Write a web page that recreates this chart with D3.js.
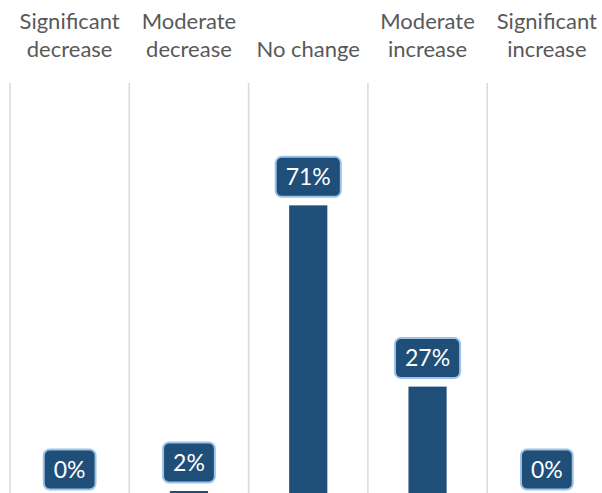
<!DOCTYPE html>
<html>
<head>
<meta charset="utf-8">
<script src="https://cdn.jsdelivr.net/npm/d3@7"></script>
<style>
  body { margin: 0; background: #fff; }
  svg { display: block; }
</style>
</head>
<body>
<div id="chart"></div>
<script>
// chart data
const categories = ["Significant decrease", "Moderate decrease", "No change", "Moderate increase", "Significant increase"];
const labelLines = [["Significant", "decrease"], ["Moderate", "decrease"], ["No change"], ["Moderate", "increase"], ["Significant", "increase"]];
const shares = [0, 0.017, 0.712, 0.271, 0];

const width = 602, height = 493;
const fontFamily = "Lato, 'Open Sans', sans-serif";

const svg = d3.select("#chart")
  .append("svg")
  .attr("width", width)
  .attr("height", height);

// columns: one band per answer, gridlines on the band edges
const x = d3.scaleBand()
  .domain(categories)
  .range([10, 606.5])
  .padding(0);

const y = d3.scaleLinear()
  .domain([0, 1])
  .range([498, 87]);

const barW = x.bandwidth() * 0.32;
const pct = d3.format(".0%");

// vertical gridlines
const edges = categories.map(c => x(c)).concat([x.range()[1]]);
svg.selectAll(".grid")
  .data(edges)
  .enter()
  .append("line")
  .attr("class", "grid")
  .attr("x1", d => d).attr("x2", d => d)
  .attr("y1", 83).attr("y2", height)
  .style("stroke", "#d9d9d9")
  .style("stroke-width", 1.5);

// category labels on top
svg.selectAll(".cat")
  .data(categories)
  .enter()
  .append("text")
  .attr("class", "cat")
  .attr("text-anchor", "middle")
  .style("font-family", fontFamily)
  .style("font-size", "22px")
  .style("fill", "#595959")
  .each(function(d, i) {
    const lines = labelLines[i];
    const t = d3.select(this);
    lines.forEach((ln, j) => {
      t.append("tspan")
        .attr("x", x(d) + x.bandwidth() / 2)
        .attr("y", lines.length === 1 ? 57 : 29 + j * 28)
        .text(ln);
    });
  });

// bars
svg.selectAll(".bar")
  .data(categories)
  .enter()
  .append("rect")
  .attr("class", "bar")
  .attr("x", d => x(d) + (x.bandwidth() - barW) / 2)
  .attr("y", (d, i) => y(shares[i]))
  .attr("width", barW)
  .attr("height", (d, i) => y(0) - y(shares[i]))
  .style("fill", "#1f4e79");

// value callouts
const tags = svg.selectAll(".tag")
  .data(categories)
  .enter()
  .append("g")
  .attr("class", "tag")
  .attr("transform", (d, i) => `translate(${x(d) + x.bandwidth() / 2},${y(shares[i]) - 28.5})`);

tags.append("text")
  .attr("text-anchor", "middle")
  .attr("dy", "0.36em")
  .style("font-family", fontFamily)
  .style("font-size", "23px")
  .style("fill", "#fff")
  .text((d, i) => pct(shares[i]));

tags.each(function() {
  const g = d3.select(this);
  const bb = g.select("text").node().getBBox();
  const w = bb.width + 20, h = 40;
  g.insert("rect", "text")
    .attr("x", -w / 2).attr("y", -h / 2)
    .attr("width", w).attr("height", h)
    .attr("rx", 6).attr("ry", 6)
    .style("fill", "#1f4e79")
    .style("stroke", "#9dc3e6")
    .style("stroke-width", 2);
});
</script>
</body>
</html>
